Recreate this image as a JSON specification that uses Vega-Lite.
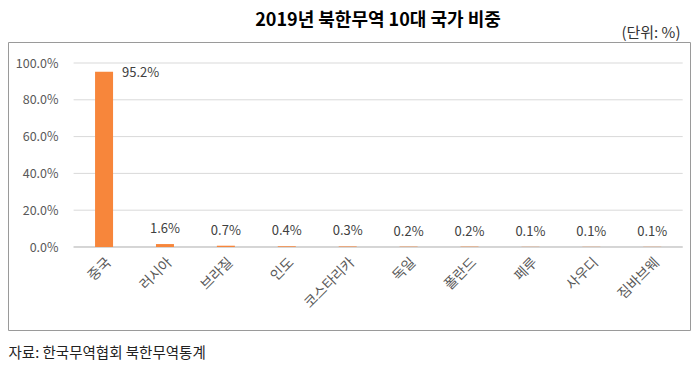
{
  "$schema": "https://vega.github.io/schema/vega-lite/v6.json",
  "autosize": {"type": "none"},
  "padding": {"left": 8, "top": 42, "right": 6, "bottom": 35},
  "width": 682,
  "height": 288,
  "background": "white",
  "title": {
    "text": "2019년 북한무역 10대 국가 비중",
    "font": "Noto Sans CJK KR",
    "fontSize": 18,
    "fontWeight": "bold",
    "color": "#000000",
    "anchor": "middle",
    "frame": "group",
    "dx": 29,
    "offset": -5
  },
  "config": {
    "view": {"stroke": "#9a9a9a", "strokeWidth": 1},
    "font": "Noto Sans CJK KR"
  },
  "datasets": {
    "bars": [
      {"country": "중국", "share": 95.2},
      {"country": "러시아", "share": 1.6},
      {"country": "브라질", "share": 0.7},
      {"country": "인도", "share": 0.4},
      {"country": "코스타리카", "share": 0.3},
      {"country": "독일", "share": 0.2},
      {"country": "폴란드", "share": 0.2},
      {"country": "페루", "share": 0.1},
      {"country": "사우디", "share": 0.1},
      {"country": "짐바브웨", "share": 0.1}
    ],
    "grid": [
      {"v": 0}, {"v": 20}, {"v": 40}, {"v": 60}, {"v": 80}, {"v": 100}
    ]
  },
  "encoding": {
    "x": {
      "field": "country",
      "type": "nominal",
      "scale": {
        "domain": ["중국", "러시아", "브라질", "인도", "코스타리카", "독일", "폴란드", "페루", "사우디", "짐바브웨"],
        "range": [65.6, 674.7],
        "paddingInner": 0,
        "paddingOuter": 0
      },
      "axis": {
        "orient": "bottom",
        "offset": -83,
        "domain": false,
        "ticks": false,
        "labelAngle": -45,
        "labelFontSize": 14,
        "labelColor": "#595959",
        "labelPadding": 8,
        "title": "자료: 한국무역협회 북한무역통계",
        "titleFontSize": 14.5,
        "titleFontWeight": "normal",
        "titleColor": "#222222",
        "titleAnchor": "start",
        "titleAlign": "left",
        "titleBaseline": "alphabetic",
        "titleX": 0,
        "titleY": 110
      }
    },
    "y": {
      "field": "share",
      "type": "quantitative",
      "scale": {"domain": [0, 100], "range": [205, 21], "nice": false, "zero": true},
      "axis": {
        "orient": "left",
        "offset": -52,
        "values": [0, 20, 40, 60, 80, 100],
        "labelExpr": "format(datum.value, '.1f') + '%'",
        "domain": false,
        "ticks": false,
        "grid": false,
        "labelFontSize": 12.5,
        "labelColor": "#595959",
        "labelPadding": 2,
        "title": "(단위:  %)",
        "titleAngle": 0,
        "titleFontSize": 15,
        "titleFontWeight": "normal",
        "titleColor": "#333333",
        "titleAlign": "right",
        "titleBaseline": "alphabetic",
        "titleX": 620,
        "titleY": -5
      }
    }
  },
  "layer": [
    {
      "data": {"name": "grid"},
      "mark": {"type": "rule", "color": "#d9d9d9", "strokeWidth": 1},
      "encoding": {
        "x": {"datum": "중국", "bandPosition": 0},
        "x2": {"datum": "짐바브웨", "bandPosition": 1},
        "y": {"field": "v", "type": "quantitative"}
      }
    },
    {
      "data": {"name": "grid"},
      "transform": [{"filter": "datum.v == 0"}],
      "mark": {"type": "rule", "color": "#bfbfbf", "strokeWidth": 1},
      "encoding": {
        "x": {"datum": "중국", "bandPosition": 0},
        "x2": {"datum": "짐바브웨", "bandPosition": 1},
        "y": {"field": "v", "type": "quantitative"}
      }
    },
    {
      "data": {"name": "bars"},
      "mark": {"type": "bar", "color": "#F7863B", "size": 18},
      "encoding": {}
    },
    {
      "data": {"name": "bars"},
      "transform": [
        {"filter": "datum.country != '중국'"},
        {"calculate": "format(datum.share, '.1f') + '%'", "as": "label"}
      ],
      "mark": {"type": "text", "fontSize": 13, "color": "#404040", "baseline": "bottom", "dy": -8},
      "encoding": {"text": {"field": "label"}}
    },
    {
      "data": {"name": "bars"},
      "transform": [
        {"filter": "datum.country == '중국'"},
        {"calculate": "format(datum.share, '.1f') + '%'", "as": "label"}
      ],
      "mark": {"type": "text", "fontSize": 13, "color": "#404040", "align": "left", "baseline": "middle", "dx": 18, "dy": 1},
      "encoding": {"text": {"field": "label"}}
    }
  ]
}
